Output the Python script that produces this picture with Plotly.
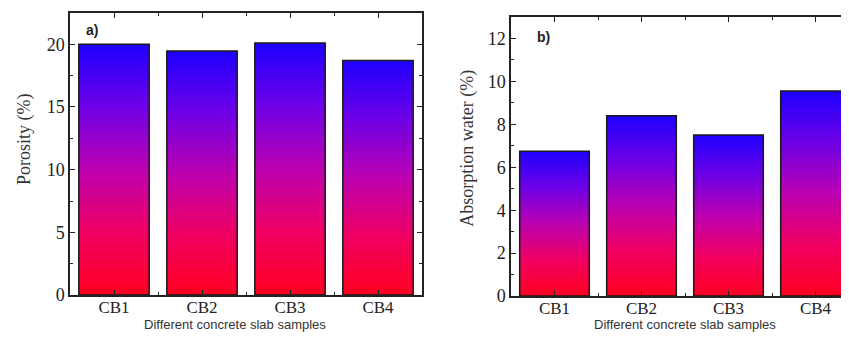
import plotly.graph_objects as go

categories = ["CB1", "CB2", "CB3", "CB4"]
porosity = [20.0, 19.45, 20.1, 18.7]
absorption = [6.75, 8.4, 7.5, 9.55]

# page body has an 8px margin on every side; keep the figure inside the window
OFF = 8
W, H = 849 - 2 * OFF, 349 - 2 * OFF
BAR_W = 0.8
SERIF = "Liberation Serif, Times New Roman, serif"
SANS = "Liberation Sans, Arial, sans-serif"
INK = "#222222"
GRAD = [[0.0, "#ff0020"], [0.25, "#f00062"], [0.5, "#bb00b0"], [0.75, "#6e00e6"], [1.0, "#1e00ff"]]


def px_x(p):
    return (p - OFF) / W


def px_y(p):
    return 1 - (p - OFF) / H


fig = go.Figure()


def add_bars(values, xa, ya):
    for i, v in enumerate(values):
        x0, x1 = i - BAR_W / 2, i + BAR_W / 2
        fig.add_trace(go.Scatter(
            x=[x0, x1, x1, x0, x0], y=[0, 0, v, v, 0],
            mode="lines", fill="toself",
            fillgradient=dict(type="vertical", colorscale=GRAD),
            line=dict(color="#1a1a1a", width=1.5),
            xaxis=xa, yaxis=ya, showlegend=False, hoverinfo="skip",
        ))


add_bars(porosity, "x", "y")
add_bars(absorption, "x2", "y2")

idx = list(range(len(categories)))
xcommon = dict(
    tickmode="array", tickvals=idx, ticktext=categories,
    ticks="inside", ticklen=5, tickwidth=1.2, tickcolor=INK,
    showline=True, linecolor=INK, linewidth=1.5,
    showgrid=False, zeroline=False, ticklabelstandoff=-4,
    tickfont=dict(family=SERIF, size=17, color=INK),
    minor=dict(tickmode="array", tickvals=[i + 0.5 for i in idx[:-1]],
               ticks="inside", ticklen=3, tickcolor=INK, showgrid=False),
)
ycommon = dict(
    ticks="inside", ticklen=5, tickwidth=1.2, tickcolor=INK,
    showline=True, linecolor=INK, linewidth=1.5,
    showgrid=False, zeroline=False,
    tickfont=dict(family=SERIF, size=18, color=INK),
)

right_edge = OFF + W
fig.update_layout(
    width=W, height=H,
    margin=dict(l=0, r=0, t=0, b=0),
    paper_bgcolor="white", plot_bgcolor="white",
    xaxis=dict(domain=[px_x(70), px_x(422)], range=[-0.5, 3.5], anchor="y",
               mirror="allticks", **xcommon),
    yaxis=dict(domain=[px_y(304), px_y(13)], range=[0, 22.5], anchor="x",
               dtick=5, mirror="allticks",
               minor=dict(dtick=2.5, ticks="inside", ticklen=3, tickcolor=INK, showgrid=False),
               **ycommon),
    xaxis2=dict(domain=[px_x(511), 1.0], range=[-0.5, -0.5 + (right_edge - 511) / 87], anchor="y2",
                mirror="allticks", **xcommon),
    yaxis2=dict(domain=[px_y(305), px_y(17.3)], range=[0, 13], anchor="x2",
                dtick=2, mirror=False,
                minor=dict(dtick=1, ticks="inside", ticklen=3, tickcolor=INK, showgrid=False),
                **ycommon),
)

ann = [
    dict(text="Porosity (%)", x=px_x(25), y=px_y(143), textangle=-90,
         font=dict(family=SERIF, size=18, color="#333333")),
    dict(text="Absorption water (%)", x=px_x(468), y=px_y(153), textangle=-90,
         font=dict(family=SERIF, size=18, color="#333333")),
    dict(text="Different concrete slab samples", x=px_x(235), y=px_y(334.5),
         font=dict(family=SANS, size=13, color="#333333")),
    dict(text="Different concrete slab samples", x=px_x(685), y=px_y(334.5),
         font=dict(family=SANS, size=13, color="#333333")),
    dict(text="<b>a)</b>", x=px_x(92), y=px_y(31),
         font=dict(family=SANS, size=14, color="#222222")),
    dict(text="<b>b)</b>", x=px_x(543), y=px_y(38),
         font=dict(family=SANS, size=14, color="#222222")),
]
for a in ann:
    fig.add_annotation(xref="paper", yref="paper", showarrow=False,
                       xanchor="center", yanchor="middle", **a)

fig.write_html("out.html")
